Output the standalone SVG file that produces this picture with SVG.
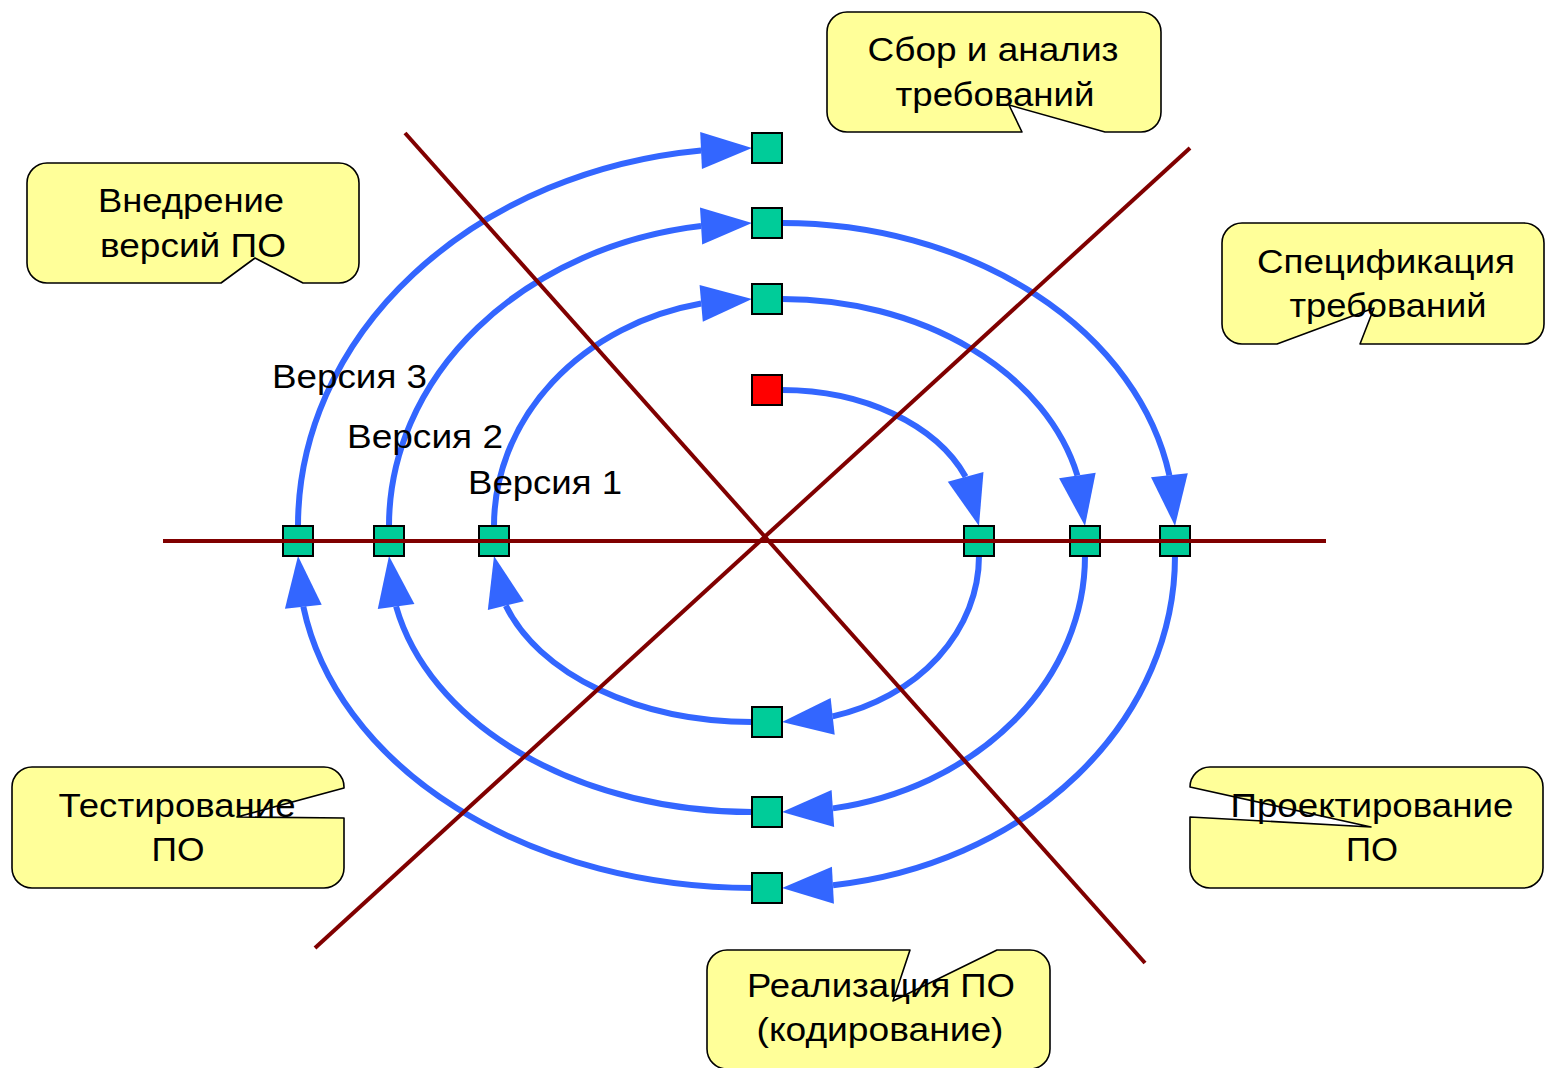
<svg xmlns="http://www.w3.org/2000/svg" xmlns:xlink="http://www.w3.org/1999/xlink" width="1546" height="1068" viewBox="0 0 1546 1068">
  <style>
    .callout { fill: #FFFF99; stroke: #000; stroke-width: 1.6; stroke-linejoin: round; }
    .lbl { font-family: "Liberation Sans", Arial, sans-serif; font-size: 34px; fill: #000; text-anchor: middle; }
    .ver { font-family: "Liberation Sans", Arial, sans-serif; font-size: 34px; fill: #000; }
    .arc { fill: none; stroke: #3366FF; stroke-width: 6; }
    .head { fill: #3366FF; }
    .pt { fill: #00CC99; stroke: #000; stroke-width: 2; }
    .start { fill: #FF0000; stroke: #000; stroke-width: 2; }
    .axis { stroke: #800000; stroke-width: 4; fill: none; }
  </style>
  <defs>
    <polygon id="ah" points="0,0 -51,-18.5 -51,18.5"/>
  </defs>

  <rect width="1546" height="1068" fill="#fff"/>

  <!-- spiral: quarter-ellipse arcs with arrowheads -->
  <g id="connectors">
    <path class="arc" d="M782,390 A197,136 0 0 1 965.6,476.7"/>
    <path class="arc" d="M979,556 A197,166 0 0 1 832.6,716.4"/>
    <path class="arc" d="M752,722 A258,166 0 0 1 505.8,605.6"/>
    <path class="arc" d="M494,526 A258,227 0 0 1 701.2,303.5"/>
    <path class="arc" d="M782,299 A303,227 0 0 1 1077.4,475.5"/>
    <path class="arc" d="M1085,556 A303,256 0 0 1 832.9,808.4"/>
    <path class="arc" d="M752,812 A363,256 0 0 1 396.1,606.5"/>
    <path class="arc" d="M389,526 A363,303 0 0 1 701.1,226"/>
    <path class="arc" d="M782,223 A393,303 0 0 1 1169.4,475.3"/>
    <path class="arc" d="M1175,556 A393,332 0 0 1 833,885.2"/>
    <path class="arc" d="M752,888 A454,332 0 0 1 303.3,606.7"/>
    <path class="arc" d="M298,526 A454,378 0 0 1 701.1,150.4"/>

    <use xlink:href="#ah" class="head" transform="translate(979,526) rotate(74.8)"/>
    <use xlink:href="#ah" class="head" transform="translate(782,722) rotate(173.7)"/>
    <use xlink:href="#ah" class="head" transform="translate(494,556) rotate(-103.4)"/>
    <use xlink:href="#ah" class="head" transform="translate(752,299) rotate(-5)"/>
    <use xlink:href="#ah" class="head" transform="translate(1085,526) rotate(81.4)"/>
    <use xlink:href="#ah" class="head" transform="translate(782,812) rotate(176)"/>
    <use xlink:href="#ah" class="head" transform="translate(389,556) rotate(-98)"/>
    <use xlink:href="#ah" class="head" transform="translate(752,223) rotate(-3.4)"/>
    <use xlink:href="#ah" class="head" transform="translate(1175,526) rotate(83.7)"/>
    <use xlink:href="#ah" class="head" transform="translate(782,888) rotate(176.9)"/>
    <use xlink:href="#ah" class="head" transform="translate(298,556) rotate(-96)"/>
    <use xlink:href="#ah" class="head" transform="translate(752,148) rotate(-2.7)"/>
  </g>

  <!-- milestone points -->
  <g id="points">
    <rect id="p-start" class="start" x="752" y="375" width="30" height="30"/>
    <rect id="p-t1" class="pt" x="752" y="133" width="30" height="30"/>
    <rect id="p-t2" class="pt" x="752" y="208" width="30" height="30"/>
    <rect id="p-t3" class="pt" x="752" y="284" width="30" height="30"/>
    <rect id="p-l3" class="pt" x="283" y="526" width="30" height="30"/>
    <rect id="p-l2" class="pt" x="374" y="526" width="30" height="30"/>
    <rect id="p-l1" class="pt" x="479" y="526" width="30" height="30"/>
    <rect id="p-r1" class="pt" x="964" y="526" width="30" height="30"/>
    <rect id="p-r2" class="pt" x="1070" y="526" width="30" height="30"/>
    <rect id="p-r3" class="pt" x="1160" y="526" width="30" height="30"/>
    <rect id="p-b1" class="pt" x="752" y="707" width="30" height="30"/>
    <rect id="p-b2" class="pt" x="752" y="797" width="30" height="30"/>
    <rect id="p-b3" class="pt" x="752" y="873" width="30" height="30"/>
  </g>

  <!-- phase dividers -->
  <g id="axes">
    <line class="axis" x1="163" y1="541" x2="1326" y2="541"/>
    <line class="axis" x1="405" y1="133" x2="1145" y2="963"/>
    <line class="axis" x1="1190" y1="148" x2="315" y2="948"/>
  </g>

  <!-- phase callouts -->
  <g id="c-requirements">
    <path class="callout" d="M847,12 H1141 A20,20 0 0 1 1161,32 V112 A20,20 0 0 1 1141,132 H1105 L1009,105 L1022,132 H847 A20,20 0 0 1 827,112 V32 A20,20 0 0 1 847,12 Z"/>
    <text class="lbl" x="993" y="61" textLength="251" lengthAdjust="spacingAndGlyphs">Сбор и анализ</text>
    <text class="lbl" x="995" y="106" textLength="199" lengthAdjust="spacingAndGlyphs">требований</text>
  </g>

  <g id="c-deploy">
    <path class="callout" d="M47,163 H339 A20,20 0 0 1 359,183 V263 A20,20 0 0 1 339,283 H303 L255,258 L221,283 H47 A20,20 0 0 1 27,263 V183 A20,20 0 0 1 47,163 Z"/>
    <text class="lbl" x="191" y="212" textLength="186" lengthAdjust="spacingAndGlyphs">Внедрение</text>
    <text class="lbl" x="193" y="257" textLength="186" lengthAdjust="spacingAndGlyphs">версий ПО</text>
  </g>

  <g id="c-spec">
    <path class="callout" d="M1242,223 H1524 A20,20 0 0 1 1544,243 V324 A20,20 0 0 1 1524,344 H1360 L1374,308 L1277,344 H1242 A20,20 0 0 1 1222,324 V243 A20,20 0 0 1 1242,223 Z"/>
    <text class="lbl" x="1386" y="273" textLength="258" lengthAdjust="spacingAndGlyphs">Спецификация</text>
    <text class="lbl" x="1388" y="317" textLength="197" lengthAdjust="spacingAndGlyphs">требований</text>
  </g>

  <g id="c-testing">
    <path class="callout" d="M32,767 H324 A20,20 0 0 1 344,787 V788 L237,817 L344,818 V868 A20,20 0 0 1 324,888 H32 A20,20 0 0 1 12,868 V787 A20,20 0 0 1 32,767 Z"/>
    <text class="lbl" x="177" y="817" textLength="237" lengthAdjust="spacingAndGlyphs">Тестирование</text>
    <text class="lbl" x="178" y="861" textLength="53" lengthAdjust="spacingAndGlyphs">ПО</text>
  </g>

  <g id="c-design">
    <path class="callout" d="M1210,767 H1523 A20,20 0 0 1 1543,787 V868 A20,20 0 0 1 1523,888 H1210 A20,20 0 0 1 1190,868 V817 L1371,827 L1190,787 A20,20 0 0 1 1210,767 Z"/>
    <text class="lbl" x="1372" y="817" textLength="283" lengthAdjust="spacingAndGlyphs">Проектирование</text>
    <text class="lbl" x="1372" y="861" textLength="52" lengthAdjust="spacingAndGlyphs">ПО</text>
  </g>

  <g id="c-coding">
    <path class="callout" d="M727,950 H910 L893,1001 L997,950 H1030 A20,20 0 0 1 1050,970 V1049 A20,20 0 0 1 1030,1069 H727 A20,20 0 0 1 707,1049 V970 A20,20 0 0 1 727,950 Z"/>
    <text class="lbl" x="881" y="997" textLength="268" lengthAdjust="spacingAndGlyphs">Реализация ПО</text>
    <text class="lbl" x="880" y="1041" textLength="247" lengthAdjust="spacingAndGlyphs">(кодирование)</text>
  </g>

  <!-- version labels -->
  <g id="v3"><text class="ver" x="272" y="388" textLength="155" lengthAdjust="spacingAndGlyphs">Версия 3</text></g>
  <g id="v2"><text class="ver" x="347" y="448" textLength="156" lengthAdjust="spacingAndGlyphs">Версия 2</text></g>
  <g id="v1"><text class="ver" x="468" y="494" textLength="154" lengthAdjust="spacingAndGlyphs">Версия 1</text></g>
</svg>
